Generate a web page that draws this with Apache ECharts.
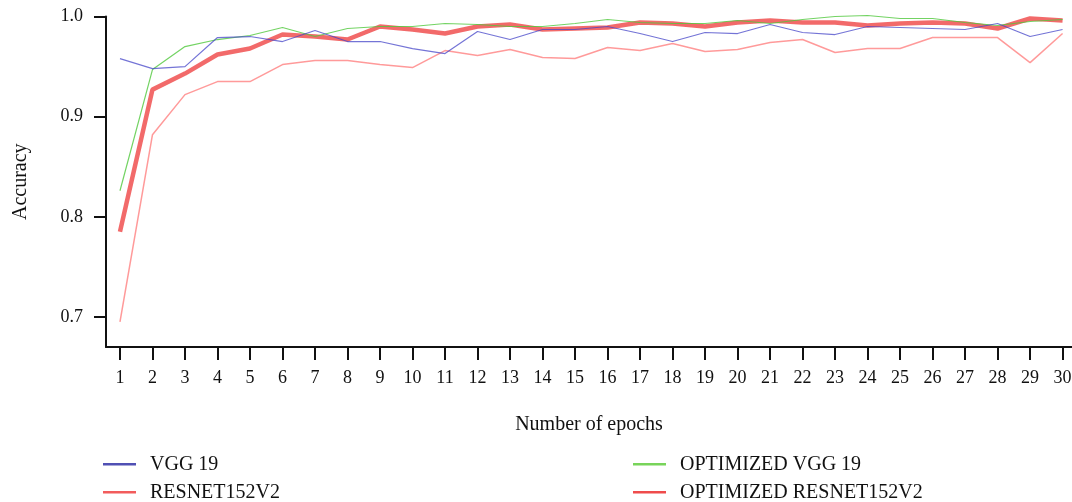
<!DOCTYPE html>
<html>
<head>
<meta charset="utf-8">
<script src="https://cdn.jsdelivr.net/npm/echarts@6/dist/echarts.min.js"></script>
<style>html,body{margin:0;padding:0;background:#fff}#c{width:1072px;height:502px}</style>
</head>
<body>
<div id="c"></div>
<script>
const epochs = [1,2,3,4,5,6,7,8,9,10,11,12,13,14,15,16,17,18,19,20,21,22,23,24,25,26,27,28,29,30];
const yTicks = [0.7,0.8,0.9,1.0];
const vgg19 = [0.958,0.948,0.950,0.979,0.980,0.975,0.986,0.975,0.975,0.968,0.963,0.985,0.977,0.987,0.987,0.990,0.983,0.975,0.984,0.983,0.992,0.984,0.982,0.990,0.989,0.988,0.987,0.993,0.980,0.987];
const resnet = [0.695,0.882,0.922,0.935,0.935,0.952,0.956,0.956,0.952,0.949,0.966,0.961,0.967,0.959,0.958,0.969,0.966,0.973,0.965,0.967,0.974,0.977,0.964,0.968,0.968,0.979,0.979,0.979,0.954,0.983];
const optVgg = [0.826,0.947,0.970,0.977,0.981,0.989,0.980,0.988,0.990,0.990,0.993,0.992,0.990,0.990,0.993,0.997,0.994,0.993,0.993,0.996,0.993,0.997,1.000,1.001,0.998,0.998,0.994,0.991,0.995,0.997];
const optResnet = [0.785,0.927,0.943,0.962,0.968,0.982,0.980,0.977,0.990,0.987,0.983,0.990,0.992,0.987,0.988,0.989,0.994,0.993,0.990,0.994,0.996,0.994,0.994,0.991,0.993,0.994,0.993,0.988,0.998,0.996];
const names = ['VGG 19','RESNET152V2','OPTIMIZED VGG 19','OPTIMIZED RESNET152V2'];
const legendColors = ['#5050b4','#f25c5c','#78d45a','#ef4c4c'];

const font = 'Liberation Serif';
const pair = a => epochs.map((e,i)=>[e,a[i]]);
const chart = echarts.init(document.getElementById('c'));
const legendText = {fontFamily: font, fontSize: 20, color: '#111', lineHeight: 20, padding:[0,0,0,9]};
const legendPos = [[103,454.3],[103,482.3],[633,454.3],[633,482.3]];
const legends = names.map((n,i)=>({
  orient: 'horizontal', left: legendPos[i][0], top: legendPos[i][1], padding: 0,
  itemWidth: 33, itemHeight: 2.5, icon: 'rect', textStyle: legendText,
  data: [{name: n, itemStyle: {color: legendColors[i]}}]
}));
chart.setOption({
  animation: false,
  backgroundColor: '#fff',
  grid: {left: 106, right: 0, top: 16.5, bottom: 155, containLabel: false, outerBoundsMode: 'none'},
  xAxis: {
    type: 'value', min: 0.57, max: 30.29,
    name: 'Number of epochs', nameLocation: 'middle', nameGap: 68,
    nameTextStyle: {fontFamily: font, fontSize: 20, color: '#111'},
    axisLine: {show: true, lineStyle: {color: '#111', width: 2}},
    axisTick: {show: true, customValues: epochs, length: 13, lineStyle: {color: '#111', width: 2}},
    axisLabel: {customValues: epochs, margin: 22, fontFamily: font, fontSize: 18, color: '#111'},
    splitLine: {show: false}
  },
  yAxis: {
    type: 'value', min: 0.67, max: 1.0,
    name: 'Accuracy', nameLocation: 'middle', nameGap: 75,
    nameTextStyle: {fontFamily: font, fontSize: 20, color: '#111'},
    axisLine: {show: true, lineStyle: {color: '#111', width: 2}},
    axisTick: {show: true, customValues: yTicks, length: 12, lineStyle: {color: '#111', width: 2}},
    axisLabel: {customValues: yTicks, margin: 23, fontFamily: font, fontSize: 18, color: '#111',
      formatter: v => v.toFixed(1)},
    splitLine: {show: false}
  },
  legend: legends,
  series: [
    {name: names[3], type: 'line', data: pair(optResnet), showSymbol: false, clip: false, z: 1,
     lineStyle: {color: 'rgba(240,80,80,0.85)', width: 4.5}, itemStyle: {color: '#ef4c4c'}},
    {name: names[1], type: 'line', data: pair(resnet), showSymbol: false, clip: false, z: 2,
     lineStyle: {color: 'rgba(255,120,120,0.75)', width: 1.5}, itemStyle: {color: '#f25c5c'}},
    {name: names[2], type: 'line', data: pair(optVgg), showSymbol: false, clip: false, z: 3,
     lineStyle: {color: 'rgba(80,200,60,0.8)', width: 1.2}, itemStyle: {color: '#78d45a'}},
    {name: names[0], type: 'line', data: pair(vgg19), showSymbol: false, clip: false, z: 4,
     lineStyle: {color: 'rgba(70,70,200,0.75)', width: 1.2}, itemStyle: {color: '#5050b4'}}
  ]
});
</script>
</body>
</html>
